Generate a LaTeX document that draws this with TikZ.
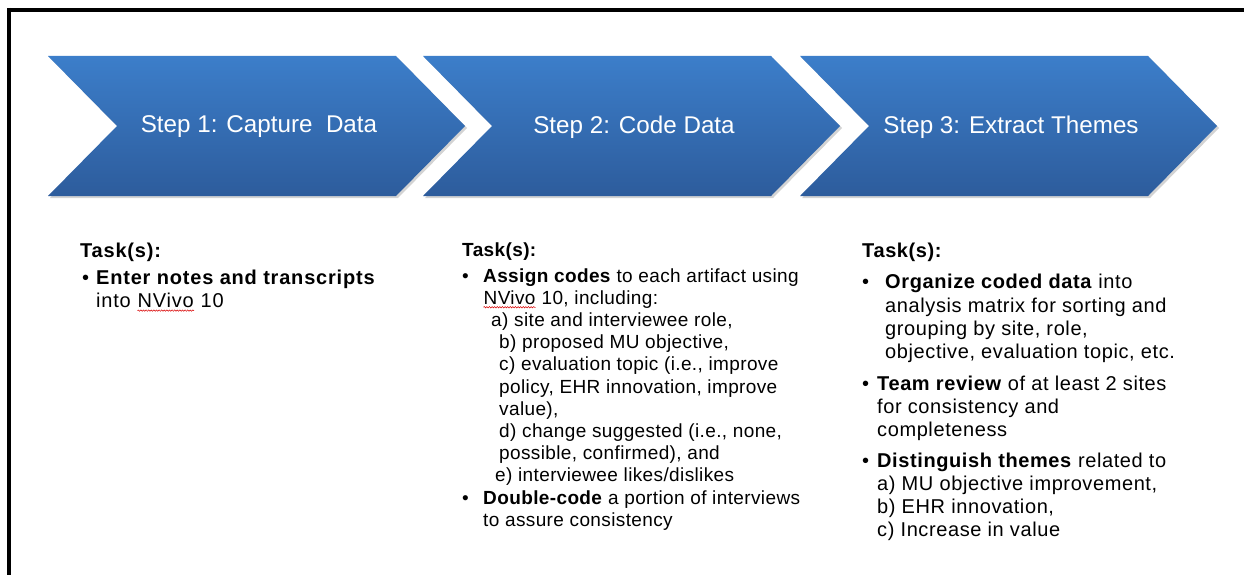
\documentclass[tikz,border=0pt]{standalone}
\usepackage{fontspec}
\setmainfont{Liberation Sans}
\newfontfamily\taskfontone{Liberation Sans}[LetterSpace=4]
\newfontfamily\taskfonttwo{Liberation Sans}[LetterSpace=2]
\newfontfamily\taskfontthree{Liberation Sans}[LetterSpace=3]
\usetikzlibrary{shadows,decorations.pathmorphing}

\definecolor{steptop}{RGB}{60,126,202}
\definecolor{stepbot}{RGB}{45,92,156}

% red spell-check squiggle under a word
\newcommand\spellmark[1]{\tikz[baseline=(w.base)]{\node[inner sep=0pt,anchor=base] (w) {#1};
  \draw[red!85!black,line width=0.5pt,decorate,decoration={snake,amplitude=0.7pt,segment length=2.6pt}]
    ([yshift=-2.5pt]w.south west) -- ([yshift=-2.5pt]w.south east);}}

\begin{document}
\begin{tikzpicture}[x=1pt,y=-1pt,
    step arrow/.style={top color=steptop,bottom color=stepbot,draw=none,
      drop shadow={opacity=0.35,shadow xshift=2pt,shadow yshift=-2pt}},
    step label/.style={text=white,font=\fontsize{24.2}{29}\selectfont},
    task node/.style={anchor=north west,inner sep=0pt,align=left}]
  \useasboundingbox (0,0) rectangle (1244,575);
  \draw[line width=4pt] (9,10) -- (1250,10);
  \draw[line width=4pt] (9,8) -- (9,580);

  % chevrons
  \foreach \x/\n/\txt in {48/s1/Step 1: Capture\ \ Data,423/s2/Step 2: Code Data,800/s3/Step 3: Extract Themes}{
    \path[step arrow] (\x,56) -- (\x+348,56) -- (\x+417,126) -- (\x+348,196)
      -- (\x,196) -- (\x+69,126) -- cycle;
    \node[step label] (\n) at (\x+211,127) {\txt};
  }

  % tasks
  \node[task node,font=\taskfontone\fontsize{20}{23}\selectfont] (t1) at (80,243) {\textbf{Task(s):}\\[4pt]
    \makebox[16pt][l]{\hspace{2pt}•}\textbf{Enter notes and transcripts}\\
    \hspace*{16pt}into \spellmark{NVivo} 10};

  \node[task node,font=\taskfonttwo\fontsize{19}{22.2}\selectfont] (t2) at (462,243) {\textbf{Task(s):}\\[3pt]
    \makebox[21pt][l]{•}\textbf{Assign codes} to each artifact using\\
    \hspace*{21pt}\spellmark{NVivo} 10, including:\\
    \hspace*{29pt}a) site and interviewee role,\\
    \hspace*{37pt}b) proposed MU objective,\\
    \hspace*{37pt}c) evaluation topic (i.e., improve\\
    \hspace*{37pt}policy, EHR innovation, improve\\
    \hspace*{37pt}value),\\
    \hspace*{37pt}d) change suggested (i.e., none,\\
    \hspace*{37pt}possible, confirmed), and\\
    \hspace*{33pt}e) interviewee likes/dislikes\\
    \makebox[21pt][l]{•}\textbf{Double-code} a portion of interviews\\
    \hspace*{21pt}to assure consistency};

  \node[task node,font=\taskfontthree\fontsize{20}{23.3}\selectfont] (t3) at (862,243) {\textbf{Task(s):}\\[8pt]
    \makebox[23pt][l]{•}\textbf{Organize coded data} into\\
    \hspace*{23pt}analysis matrix for sorting and\\
    \hspace*{23pt}grouping by site, role,\\
    \hspace*{23pt}objective, evaluation topic, etc.\\[8pt]
    \makebox[15pt][l]{•}\textbf{Team review} of at least 2 sites\\
    \hspace*{15pt}for consistency and\\
    \hspace*{15pt}completeness\\[7pt]
    \makebox[15pt][l]{•}\textbf{Distinguish themes} related to\\
    \hspace*{15pt}a) MU objective improvement,\\
    \hspace*{15pt}b) EHR innovation,\\
    \hspace*{15pt}c) Increase in value};
\end{tikzpicture}
\end{document}
